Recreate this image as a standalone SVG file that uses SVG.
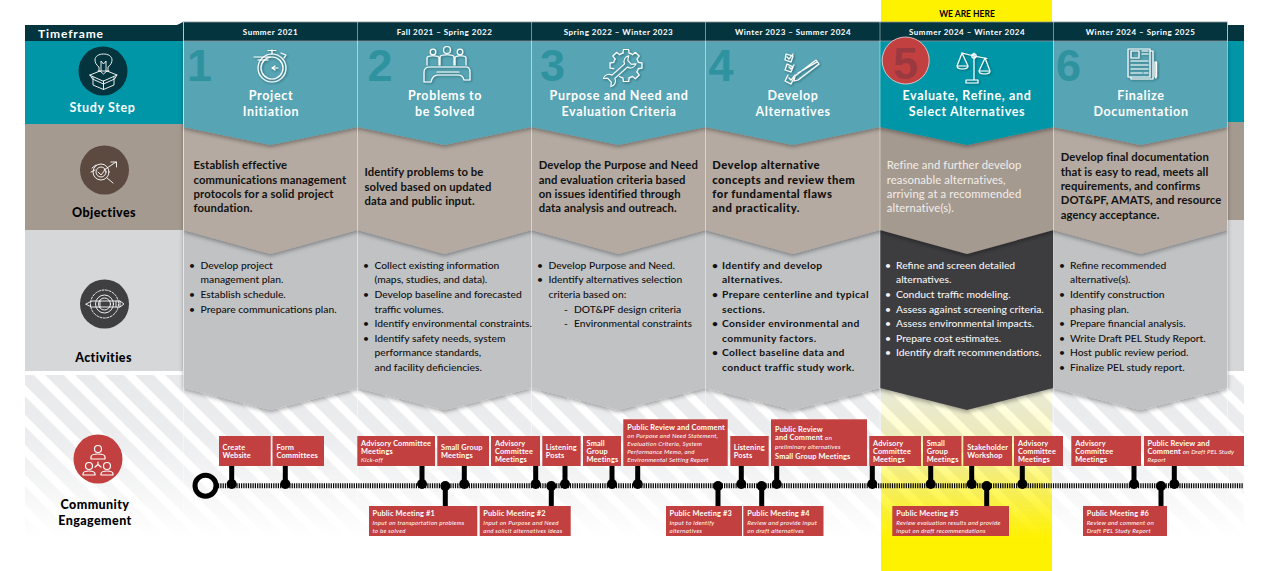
<svg xmlns="http://www.w3.org/2000/svg" width="1277" height="571" viewBox="0 0 1277 571">
<style>
text{font-family:"Lato","Liberation Sans",sans-serif}
.hd{font-size:12.5px;font-weight:700;fill:#fff;text-anchor:middle;letter-spacing:.65px}
.tf{font-size:8px;font-weight:700;fill:#fff;text-anchor:middle;letter-spacing:.5px}
.lb{font-size:12.5px;font-weight:900;fill:#000;text-anchor:middle;letter-spacing:.4px}
.num{font-family:"Liberation Sans",sans-serif;font-size:45px;font-weight:700;fill:#2e929f}
.ob{font-size:11.3px;font-weight:700;fill:#111;letter-spacing:.1px}
.obh{font-size:11.3px;font-weight:900;fill:#111;letter-spacing:.45px}
.ac{font-size:10.3px;font-weight:500;fill:#111}
.acb{font-size:10.3px;font-weight:700;fill:#111;letter-spacing:.35px}
.obw{font-size:11.3px;font-weight:400;fill:#f2eeea;letter-spacing:.1px}
.acw{font-size:10.3px;font-weight:500;fill:#f4f4f4}
.bx{fill:#c24040}
.bt{font-size:7.4px;font-weight:700;fill:#fff;letter-spacing:.15px}
.bs{font-size:6.2px;font-weight:400;fill:#fff;font-style:italic;letter-spacing:.22px}
.ic{fill:none;stroke:#fff;stroke-width:1.2;stroke-linecap:round;stroke-linejoin:round}
.thin{stroke-width:.9}
.stem{stroke:#000;stroke-width:5}
.dot{fill:#000}
.div{stroke:#fff;stroke-opacity:.45;stroke-width:1}
.t{fill:#56a4b4}.o{fill:#b4aaa1}.a{fill:#c1c2c4}
</style>
<defs>
<filter id="sh" x="-5%" y="-10%" width="110%" height="125%"><feDropShadow dx="0" dy="2" stdDeviation="2.2" flood-color="#000" flood-opacity=".35"/></filter>
<filter id="ish" x="-30%" y="-30%" width="160%" height="160%"><feDropShadow dx="1" dy="1" stdDeviation="1.3" flood-color="#033" flood-opacity=".55"/></filter>
<pattern id="st" width="21.2" height="21.2" patternUnits="userSpaceOnUse" patternTransform="rotate(-45)"><rect width="21.2" height="21.2" fill="#fff"/><rect width="13" height="21.2" fill="#e7e8ea"/></pattern>
<linearGradient id="fade" x1="0" y1="0" x2="0" y2="1"><stop offset="0" stop-color="#fff" stop-opacity=".95"/><stop offset=".35" stop-color="#fff" stop-opacity=".8"/><stop offset=".7" stop-color="#fff" stop-opacity=".35"/><stop offset=".95" stop-color="#fff" stop-opacity="0"/></linearGradient>
<mask id="fm" maskUnits="userSpaceOnUse" x="25" y="375" width="1219" height="172"><rect x="25" y="375" width="1219" height="172" fill="url(#fade)"/></mask>
<path id="tooth" d="M-3.100-12.300L-2.600-16H2.600L3.100-12.300A12.700 12.700 0 0 1 6.500-10.900"/>
</defs>
<rect width="1277" height="571" fill="#fff"/>

<g id="backdrop">
<rect x="881" y="0" width="171" height="571" fill="#fff200"/>
<rect x="25" y="375" width="1219" height="172" fill="url(#st)" mask="url(#fm)"/>
<path d="M25 25H177L183 22V41H25Z" fill="#04353f"/>
<rect x="1227" y="25" width="17" height="16" fill="#04353f"/>
<rect x="25" y="41" width="158" height="83" fill="#0096a7"/>
<rect x="1227" y="41" width="17" height="81" fill="#0096a7"/>
<rect x="25" y="124" width="158" height="106" fill="#a59a90"/>
<rect x="1227" y="122" width="17" height="98" fill="#a59a90"/>
<rect x="25" y="230" width="158" height="141" fill="#d6d7d9"/>
<rect x="1227" y="220" width="17" height="151" fill="#d6d7d9"/>
</g>

<g id="activity-panels" filter="url(#sh)">
<path class="a" d="M183.500 230H357.500V388L270.500 410L183.500 388Z"/>
<path class="a" d="M357.500 230H531.500V388L444.500 410L357.500 388Z"/>
<path class="a" d="M531.500 230H705.500V388L618.500 410L531.500 388Z"/>
<path class="a" d="M705.500 230H880V388L793 410L705.500 388Z"/>
<path fill="#3d3d3f" d="M880 230H1053.500V388L967 410L880 388Z"/>
<path class="a" d="M1053.500 230H1227.500V388L1140.500 410L1053.500 388Z"/>
</g>
<g id="objective-panels" filter="url(#sh)">
<path class="o" d="M183.500 124H357.500V230L270.500 254L183.500 230Z"/>
<path class="o" d="M357.500 124H531.500V230L444.500 254L357.500 230Z"/>
<path class="o" d="M531.500 124H705.500V230L618.500 254L531.500 230Z"/>
<path class="o" d="M705.500 124H880V230L793 254L705.500 230Z"/>
<path fill="#a59a90" d="M880 124H1053.500V230L967 254L880 230Z"/>
<path class="o" d="M1053.500 124H1227.500V230L1140.500 254L1053.500 230Z"/>
</g>
<g id="step-panels" filter="url(#sh)">
<path class="t" d="M183.500 41H357.500V127L270.500 145L183.500 127Z"/>
<path class="t" d="M357.500 41H531.500V127L444.500 145L357.500 127Z"/>
<path class="t" d="M531.500 41H705.500V127L618.500 145L531.500 127Z"/>
<path class="t" d="M705.500 41H880V127L793 145L705.500 127Z"/>
<path fill="#0096a7" d="M880 41H1053.500V127L967 145L880 127Z"/>
<path class="t" d="M1053.500 41H1227.500V127L1140.500 145L1053.500 127Z"/>
</g>
<g id="timeframe-bar">
<rect x="183.500" y="22" width="1044" height="19" fill="#04353f" stroke="#8a9499" stroke-width=".8"/>
<path class="div" d="M183.500 22V388M357.500 22V388M531.500 22V388M705.500 22V388M880 22V388M1053.500 22V388M1227.500 22V388"/>
<path class="div" stroke-opacity=".25" d="M183.500 388V530M357.500 388V530M531.500 388V530M705.500 388V530M880 388V530M1053.500 388V530M1227.500 388V530"/>
<text x="38" y="38" style="font-size:12px;font-weight:700;fill:#fff;letter-spacing:.9px">Timeframe</text>
</g>

<g id="connectors">
<path d="M218 485.700H1243" stroke="#000" stroke-width="5" stroke-dasharray="1.200 1.100"/>
<circle cx="205.500" cy="485.700" r="10.500" fill="none" stroke="#000" stroke-width="5"/>
<path class="stem" d="M231.700 466V484M285.300 466V484M422 466V484M464.300 466V484M535.700 466V484M565 466V484M612 466V484M637.700 466V484M741.300 466V484M776.700 466V484M872.300 466V484M930.700 466V484M971.700 466V484M1022.300 466V484M1134 466V484M1174.300 466V484"/>
<path class="stem" d="M445.300 486V506M551.300 486V506M718 486V506M761.700 486V506M986.700 486V506M1161 486V506"/>
<g class="dot">
<circle cx="231.700" cy="484" r="5"/><circle cx="285.300" cy="484" r="5"/><circle cx="422" cy="484" r="5"/><circle cx="464.300" cy="484" r="5"/><circle cx="535.700" cy="484" r="5"/><circle cx="565" cy="484" r="5"/><circle cx="612" cy="484" r="5"/><circle cx="637.700" cy="484" r="5"/><circle cx="741.300" cy="484" r="5"/><circle cx="776.700" cy="484" r="5"/><circle cx="872.300" cy="484" r="5"/><circle cx="930.700" cy="484" r="5"/><circle cx="971.700" cy="484" r="5"/><circle cx="1022.300" cy="484" r="5"/><circle cx="1134" cy="484" r="5"/><circle cx="1174.300" cy="484" r="5"/>
<circle cx="445.300" cy="486" r="5"/><circle cx="551.300" cy="486" r="5"/><circle cx="718" cy="486" r="5"/><circle cx="761.700" cy="486" r="5"/><circle cx="986.700" cy="486" r="5"/><circle cx="1161" cy="486" r="5"/>
</g>
</g>

<g id="row-study-step">
<circle cx="103" cy="71" r="24.500" fill="#04353f"/>
<g class="ic thin">
<path d="M99 71V67C96 65 95 62 95 60C95 56 99 54 103.500 54C108 54 112 56 112 60C112 62 111 65 108 67V71"/><path d="M101 71V61L103.500 64L106 61V71M98 71H109"/>
<path d="M90 75L100 71L103.500 74L107 71L117 75L103.500 81ZM93 77V85L103.500 89.500L114 85V77M103.500 81V89.500M90 75L92.500 79L103.500 84L114.500 79L117 75"/>
</g>
<text class="hd" x="102.500" y="112">Study Step</text>
</g>
<g id="row-objectives">
<circle cx="104.500" cy="170" r="24.500" fill="#5c4a41"/>
<g class="ic thin"><circle cx="101" cy="172" r="8"/><circle cx="101" cy="172" r="5"/><path d="M98 172L101 175L105 170M107 178L113 183M104 170L116 162M111 162H116.500V167M92 168L96 165M91 172L95 170"/></g>
<text class="lb" x="104" y="217">Objectives</text>
</g>
<g id="row-activities">
<circle cx="104.500" cy="304" r="24.500" fill="#3f3f41"/>
<g class="ic thin"><circle cx="104.500" cy="304" r="14" stroke-dasharray="2 1.500"/><circle cx="104.500" cy="304" r="9"/><circle cx="104.500" cy="304" r="6"/><path d="M86 304L92 301H120V307H92ZM100 301V307M116 301V307M120 301L124 304L120 307"/></g>
<text class="lb" x="103.500" y="362">Activities</text>
</g>
<g id="row-community">
<circle cx="98" cy="459" r="24.500" fill="#c24040"/>
<g class="ic"><circle cx="98" cy="449" r="3.500"/><path d="M91 457C91 453 105 453 105 457V459H91Z"/><circle cx="89" cy="466" r="3.500"/><path d="M83 474C83 470 95 470 95 474V475H83Z"/><circle cx="107" cy="466" r="3.500"/><path d="M101 474C101 470 113 470 113 474V475H101Z"/><path d="M98 462V465M95 467L98 464.500L101 467"/></g>
<text class="lb" x="95" y="509">Community</text>
<text class="lb" x="95" y="525">Engagement</text>
</g>

<g id="step-1">
<text class="tf" x="270.500" y="35">Summer 2021</text>
<text class="num" x="187" y="81">1</text>
<g class="ic" filter="url(#ish)"><circle cx="272" cy="68" r="14"/><circle cx="272" cy="68" r="11"/><path d="M254 57H270M258 60H268M272 50V54M268 50.500H276M281 53L286 55L284 58M278 68H272L275 66M272 68L275 70"/></g>
<text class="hd" x="271" y="100">Project</text>
<text class="hd" x="271" y="116">Initiation</text>
<text class="ob" x="193.500" y="168.500">Establish effective</text>
<text class="ob" x="193.500" y="183.500">communications management</text>
<text class="ob" x="193.500" y="197.500">protocols for a solid project</text>
<text class="ob" x="193.500" y="212">foundation.</text>
<text class="ac" x="189" y="268.500">•</text><text class="ac" x="200.500" y="268.500">Develop project</text>
<text class="ac" x="200.500" y="283">management plan.</text>
<text class="ac" x="189" y="297.500">•</text><text class="ac" x="200.500" y="297.500">Establish schedule.</text>
<text class="ac" x="189" y="312.500">•</text><text class="ac" x="200.500" y="312.500">Prepare communications plan.</text>
</g>
<g id="step-2">
<text class="tf" x="444.500" y="35">Fall 2021 – Spring 2022</text>
<text class="num" x="367.500" y="81">2</text>
<g class="ic" filter="url(#ish)"><circle cx="433" cy="52" r="2.800"/><circle cx="447" cy="50" r="3.500"/><circle cx="460" cy="52" r="2.800"/><path d="M427 65V58C427 55 439 55 439 58V65M440 65V57C440 54 454 54 454 57V65M455 65V58C455 55 466 55 466 58V65"/><path d="M424 82V72C424 68 426 67 430 67H466C470 67 470 70 470 72V80H464C463 76 461 75 458 75H438C434 75 432 77 431 82Z"/><path d="M437 72H459"/></g>
<text class="hd" x="445" y="100">Problems to</text>
<text class="hd" x="445" y="116">be Solved</text>
<text class="ob" x="364.500" y="176">Identify problems to be</text>
<text class="ob" x="364.500" y="190.500">solved based on updated</text>
<text class="ob" x="364.500" y="205">data and public input.</text>
<text class="ac" x="363" y="268.500">•</text><text class="ac" x="374.500" y="268.500">Collect existing information</text>
<text class="ac" x="374.500" y="283">(maps, studies, and data).</text>
<text class="ac" x="363" y="297.500">•</text><text class="ac" x="374.500" y="297.500">Develop baseline and forecasted</text>
<text class="ac" x="374.500" y="312.500">traffic volumes.</text>
<text class="ac" x="363" y="327">•</text><text class="ac" x="374.500" y="327">Identify environmental constraints.</text>
<text class="ac" x="363" y="341.500">•</text><text class="ac" x="374.500" y="341.500">Identify safety needs, system</text>
<text class="ac" x="374.500" y="356">performance standards,</text>
<text class="ac" x="374.500" y="371">and facility deficiencies.</text>
</g>
<g id="step-3">
<text class="tf" x="618.500" y="35">Spring 2022 – Winter 2023</text>
<text class="num" x="540" y="81">3</text>
<g class="ic" filter="url(#ish)">
<g transform="translate(626 65.500)"><use href="#tooth"/><use href="#tooth" transform="rotate(45)"/><use href="#tooth" transform="rotate(90)"/><use href="#tooth" transform="rotate(135)"/><use href="#tooth" transform="rotate(180)"/><use href="#tooth" transform="rotate(270)"/><use href="#tooth" transform="rotate(315)"/></g>
<path transform="translate(621 70) rotate(-42) scale(.85)" d="M-12-2.500H8C9-7 14-8.500 18-6.500L13.500-3V3L18 6.500C14 8.500 9 7 8 2.500H-12C-13 7-18 8.500-22 6.500L-18 3V-3L-22-6.500C-18-8.500-13-7-12-2.500Z"/></g>
<text class="hd" x="619" y="100">Purpose and Need and</text>
<text class="hd" x="619" y="116">Evaluation Criteria</text>
<text class="ob" x="538.700" y="168.500">Develop the Purpose and Need</text>
<text class="ob" x="538.700" y="183.500">and evaluation criteria based</text>
<text class="ob" x="538.700" y="197.500">on issues identified through</text>
<text class="ob" x="538.700" y="212">data analysis and outreach.</text>
<text class="ac" x="537" y="268.500">•</text><text class="ac" x="548.500" y="268.500">Develop Purpose and Need.</text>
<text class="ac" x="537" y="283">•</text><text class="ac" x="548.500" y="283">Identify alternatives selection</text>
<text class="ac" x="548.500" y="297.500">criteria based on:</text>
<text class="ac" x="564" y="312.500">-</text><text class="ac" x="574" y="312.500">DOT&amp;PF design criteria</text>
<text class="ac" x="564" y="327">-</text><text class="ac" x="574" y="327">Environmental constraints</text>
</g>
<g id="step-4">
<text class="tf" x="793" y="35">Winter 2023 – Summer 2024</text>
<text class="num" x="708.500" y="81">4</text>
<g class="ic" filter="url(#ish)"><path d="M786 54L793 56L791 62L785 60ZM787 57L789 59L793 54M787 64L793 67L791 72L785 70ZM789 67L791 69L794 65M794 78L791 84L785 81L788 75M789 78L791 80L795 75"/><path d="M795 76L816 60L819 64L798 80L794 81ZM798 73L817 62"/></g>
<text class="hd" x="793" y="100">Develop</text>
<text class="hd" x="793" y="116">Alternatives</text>
<text class="obh" x="712.300" y="168.500">Develop alternative</text>
<text class="obh" x="712.300" y="183.500">concepts and review them</text>
<text class="obh" x="712.300" y="197.500">for fundamental flaws</text>
<text class="obh" x="712.300" y="212">and practicality.</text>
<text class="acb" x="712" y="268.500">•</text><text class="acb" x="722" y="268.500">Identify and develop</text>
<text class="acb" x="722" y="283">alternatives.</text>
<text class="acb" x="712" y="297.500">•</text><text class="acb" x="722" y="297.500">Prepare centerline and typical</text>
<text class="acb" x="722" y="312.500">sections.</text>
<text class="acb" x="712" y="327">•</text><text class="acb" x="722" y="327">Consider environmental and</text>
<text class="acb" x="722" y="341.500">community factors.</text>
<text class="acb" x="712" y="356">•</text><text class="acb" x="722" y="356">Collect baseline data and</text>
<text class="acb" x="722" y="371">conduct traffic study work.</text>
</g>
<g id="step-5">
<text x="967" y="17" style="font-size:8.500px;font-weight:700;fill:#000;text-anchor:middle">WE ARE HERE</text>
<text class="tf" x="967" y="35">Summer 2024 – Winter 2024</text>
<circle cx="905.700" cy="60.500" r="23.500" fill="#c24040" stroke="#f3d9d9" stroke-width=".8"/>
<text class="num" x="893" y="79" style="fill:#9a3a40">5</text>
<g class="ic" filter="url(#ish)"><path d="M962 53L974 56L987 58.500M974 53V80M970 80H978V83H966V80H970"/><circle cx="974" cy="56" r="2.200"/><path d="M962 53L957 66M962 53L968 66M957 66C957 70 968 70 968 66ZM985 58L979 71M985 58L990 71M979 71C979 75 990 75 990 71Z"/></g>
<text class="hd" x="967" y="100">Evaluate, Refine, and</text>
<text class="hd" x="967" y="116">Select Alternatives</text>
<text class="obw" x="886.700" y="168.500">Refine and further develop</text>
<text class="obw" x="886.700" y="183.500">reasonable alternatives,</text>
<text class="obw" x="886.700" y="197.500">arriving at a recommended</text>
<text class="obw" x="886.700" y="212">alternative(s).</text>
<text class="acw" x="885" y="268.500">•</text><text class="acw" x="896" y="268.500">Refine and screen detailed</text>
<text class="acw" x="896" y="283">alternatives.</text>
<text class="acw" x="885" y="297.500">•</text><text class="acw" x="896" y="297.500">Conduct traffic modeling.</text>
<text class="acw" x="885" y="312.500">•</text><text class="acw" x="896" y="312.500">Assess against screening criteria.</text>
<text class="acw" x="885" y="327">•</text><text class="acw" x="896" y="327">Assess environmental impacts.</text>
<text class="acw" x="885" y="341.500">•</text><text class="acw" x="896" y="341.500">Prepare cost estimates.</text>
<text class="acw" x="885" y="356">•</text><text class="acw" x="896" y="356">Identify draft recommendations.</text>
</g>
<g id="step-6">
<text class="tf" x="1140.500" y="35">Winter 2024 – Spring 2025</text>
<text class="num" x="1056" y="81">6</text>
<g class="ic" filter="url(#ish)" transform="translate(-4 -1)"><path d="M1132 50H1154V78H1132ZM1154 52H1157V80H1135V78"/><rect x="1135" y="52" width="8" height="7"/><path d="M1146 52H1152M1146 55H1152M1135 62H1152M1135 66H1152M1135 70H1152M1135 74H1146M1148 74H1152M1159 63H1160.500L1160.500 77L1159.800 79L1159 77Z"/></g>
<text class="hd" x="1141" y="100">Finalize</text>
<text class="hd" x="1141" y="116">Documentation</text>
<text class="ob" x="1060.700" y="161">Develop final documentation</text>
<text class="ob" x="1060.700" y="175.500">that is easy to read, meets all</text>
<text class="ob" x="1060.700" y="190">requirements, and confirms</text>
<text class="ob" x="1060.700" y="204">DOT&amp;PF, AMATS, and resource</text>
<text class="ob" x="1060.700" y="219">agency acceptance.</text>
<text class="ac" x="1059" y="268.500">•</text><text class="ac" x="1070" y="268.500">Refine recommended</text>
<text class="ac" x="1070" y="283">alternative(s).</text>
<text class="ac" x="1059" y="297.500">•</text><text class="ac" x="1070" y="297.500">Identify construction</text>
<text class="ac" x="1070" y="312.500">phasing plan.</text>
<text class="ac" x="1059" y="327">•</text><text class="ac" x="1070" y="327">Prepare financial analysis.</text>
<text class="ac" x="1059" y="341.500">•</text><text class="ac" x="1070" y="341.500">Write Draft PEL Study Report.</text>
<text class="ac" x="1059" y="356">•</text><text class="ac" x="1070" y="356">Host public review period.</text>
<text class="ac" x="1059" y="371">•</text><text class="ac" x="1070" y="371">Finalize PEL study report.</text>
</g>

<g id="ev-create-website"><rect class="bx" x="219" y="436" width="51.700" height="30"/><text class="bt" x="222.500" y="450">Create</text><text class="bt" x="222.500" y="458">Website</text></g>
<g id="ev-form-committees"><rect class="bx" x="272.500" y="436" width="51.500" height="30"/><text class="bt" x="276.500" y="450">Form</text><text class="bt" x="276.500" y="458">Committees</text></g>
<g id="ev-advisory-1"><rect class="bx" x="357.300" y="436" width="77.700" height="30"/><text class="bt" x="361" y="446">Advisory Committee</text><text class="bt" x="361" y="454">Meetings</text><text class="bs" x="361" y="462">Kick-off</text></g>
<g id="ev-small-1"><rect class="bx" x="437.300" y="436" width="51.700" height="30"/><text class="bt" x="441" y="450">Small Group</text><text class="bt" x="441" y="458">Meetings</text></g>
<g id="ev-advisory-2"><rect class="bx" x="491" y="436" width="49" height="30"/><text class="bt" x="495" y="446">Advisory</text><text class="bt" x="495" y="454">Committee</text><text class="bt" x="495" y="462">Meetings</text></g>
<g id="ev-listening-1"><rect class="bx" x="542.300" y="436" width="38.400" height="30"/><text class="bt" x="545.700" y="450">Listening</text><text class="bt" x="545.700" y="458">Posts</text></g>
<g id="ev-small-2"><rect class="bx" x="583" y="436" width="38" height="30"/><text class="bt" x="586.500" y="446">Small</text><text class="bt" x="586.500" y="454">Group</text><text class="bt" x="586.500" y="462">Meetings</text></g>
<g id="ev-review-1"><rect class="bx" x="623.300" y="419.300" width="104.400" height="46.700"/><text class="bt" x="627.300" y="430">Public Review and Comment</text><text class="bs" x="627.300" y="438">on Purpose and Need Statement,</text><text class="bs" x="627.300" y="446">Evaluation Criteria, System</text><text class="bs" x="627.300" y="454">Performance Memo, and</text><text class="bs" x="627.300" y="462">Environmental Setting Report</text></g>
<g id="ev-listening-2"><rect class="bx" x="730.300" y="436" width="38.400" height="30"/><text class="bt" x="733.700" y="450">Listening</text><text class="bt" x="733.700" y="458">Posts</text></g>
<g id="ev-review-2"><rect class="bx" x="771" y="419.300" width="96" height="46.700"/><text class="bt" x="775" y="432">Public Review</text><text class="bt" x="775" y="440">and Comment <tspan style="font-size:6.200px;font-weight:400">on</tspan></text><text class="bs" x="775" y="449">preliminary alternatives</text><text class="bt" x="775" y="459">Small Group Meetings</text></g>
<g id="ev-advisory-3"><rect class="bx" x="869.300" y="436" width="51.700" height="30"/><text class="bt" x="873" y="446">Advisory</text><text class="bt" x="873" y="454">Committee</text><text class="bt" x="873" y="462">Meetings</text></g>
<g id="ev-small-3"><rect class="bx" x="923" y="436" width="38.500" height="30"/><text class="bt" x="926.700" y="446">Small</text><text class="bt" x="926.700" y="454">Group</text><text class="bt" x="926.700" y="462">Meetings</text></g>
<g id="ev-stakeholder"><rect class="bx" x="963.300" y="436" width="48.700" height="30"/><text class="bt" x="967.300" y="450">Stakeholder</text><text class="bt" x="967.300" y="458">Workshop</text></g>
<g id="ev-advisory-4"><rect class="bx" x="1014" y="436" width="49" height="30"/><text class="bt" x="1018" y="446">Advisory</text><text class="bt" x="1018" y="454">Committee</text><text class="bt" x="1018" y="462">Meetings</text></g>
<g id="ev-advisory-5"><rect class="bx" x="1071.300" y="436" width="69.700" height="30"/><text class="bt" x="1075.300" y="446">Advisory</text><text class="bt" x="1075.300" y="454">Committee</text><text class="bt" x="1075.300" y="462">Meetings</text></g>
<g id="ev-review-3"><rect class="bx" x="1144" y="436" width="100" height="30"/><text class="bt" x="1147.500" y="446">Public Review and</text><text class="bt" x="1147.500" y="454">Comment <tspan style="font-size:6.200px;font-weight:400;font-style:italic">on Draft PEL Study</tspan></text><text class="bs" x="1147.500" y="462">Report</text></g>

<g id="ev-meeting-1"><rect class="bx" x="369" y="506" width="108.300" height="30"/><text class="bt" x="372.500" y="516">Public Meeting #1</text><text class="bs" x="372.500" y="525">Input on transportation problems</text><text class="bs" x="372.500" y="532.500">to be solved</text></g>
<g id="ev-meeting-2"><rect class="bx" x="479.700" y="506" width="91" height="30"/><text class="bt" x="483.300" y="516">Public Meeting #2</text><text class="bs" x="483.300" y="525">Input on Purpose and Need</text><text class="bs" x="483.300" y="532.500">and solicit alternatives ideas</text></g>
<g id="ev-meeting-3"><rect class="bx" x="666" y="506" width="76" height="30"/><text class="bt" x="669.500" y="516">Public Meeting #3</text><text class="bs" x="669.500" y="525">Input to identify</text><text class="bs" x="669.500" y="532.500">alternatives</text></g>
<g id="ev-meeting-4"><rect class="bx" x="743.300" y="506" width="80.200" height="30"/><text class="bt" x="747.300" y="516">Public Meeting #4</text><text class="bs" x="747.300" y="525">Review and provide input</text><text class="bs" x="747.300" y="532.500">on draft alternatives</text></g>
<g id="ev-meeting-5"><rect class="bx" x="892.300" y="506" width="116.700" height="30"/><text class="bt" x="896.300" y="516">Public Meeting #5</text><text class="bs" x="896.300" y="525">Review evaluation results and provide</text><text class="bs" x="896.300" y="532.500">input on draft recommendations</text></g>
<g id="ev-meeting-6"><rect class="bx" x="1083" y="506" width="84" height="30"/><text class="bt" x="1086.700" y="516">Public Meeting #6</text><text class="bs" x="1086.700" y="525">Review and comment on</text><text class="bs" x="1086.700" y="532.500">Draft PEL Study Report</text></g>
</svg>
